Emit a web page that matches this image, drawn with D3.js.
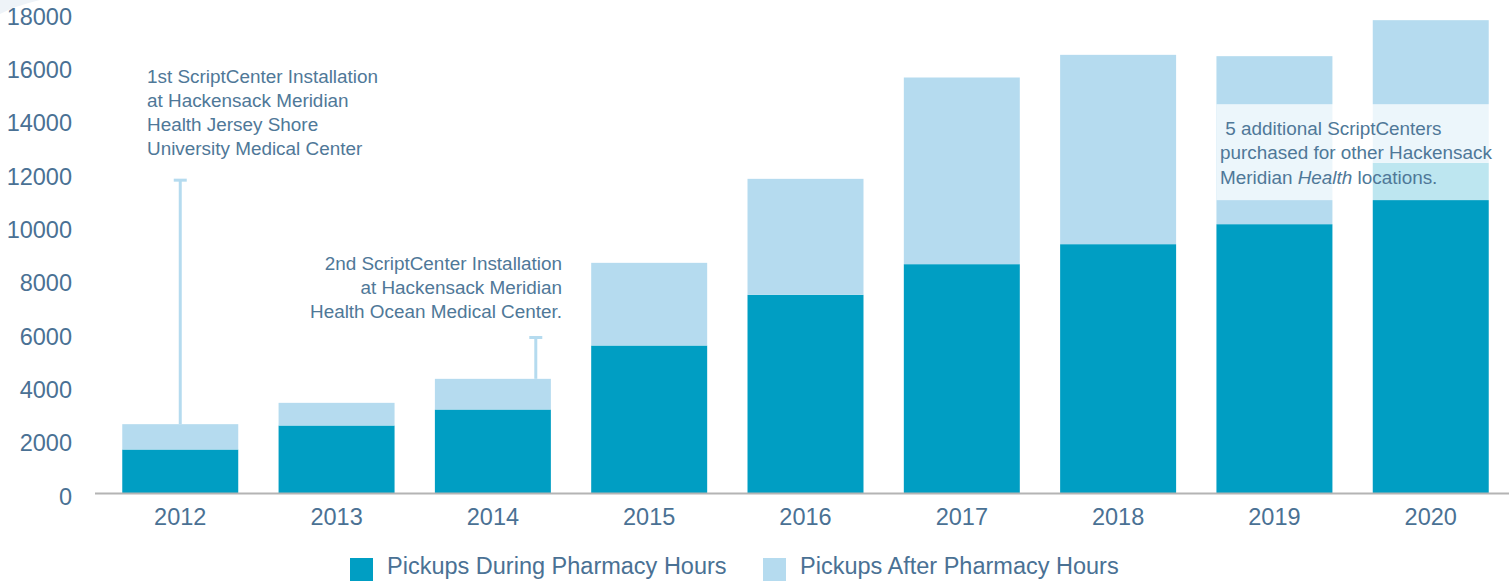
<!DOCTYPE html>
<html>
<head>
<meta charset="utf-8">
<script src="https://cdn.jsdelivr.net/npm/d3@7"></script>
<style>
  body { margin: 0; background: #fff; }
  svg { display: block; font-family: "Liberation Sans", Arial, Helvetica, sans-serif; }
  .tick-label { fill: #4a7194; font-size: 23.5px; }
  .note { fill: #4f7898; font-size: 18.9px; }
  .legend-label { fill: #4a7194; font-size: 23.5px; }
</style>
</head>
<body>
<svg width="1509" height="582"></svg>
<script>
const years = ['2012', '2013', '2014', '2015', '2016', '2017', '2018', '2019', '2020'];
const duringHours = [1650, 2550, 3150, 5550, 7450, 8600, 9350, 10100, 12400];
const totalPickups = [2600, 3400, 4300, 8650, 11800, 15600, 16450, 16400, 17750];
const yTicks = [0, 2000, 4000, 6000, 8000, 10000, 12000, 14000, 16000, 18000];
const seriesNames = ['Pickups During Pharmacy Hours', 'Pickups After Pharmacy Hours'];

const note1 = ['1st ScriptCenter Installation', 'at Hackensack Meridian', 'Health Jersey Shore', 'University Medical Center'];
const note2 = ['2nd ScriptCenter Installation', 'at Hackensack Meridian', 'Health Ocean Medical Center.'];
const note3 = [' 5 additional ScriptCenters', 'purchased for other Hackensack'];

const dark = '#009ec3';
const light = '#b5dbef';

const svg = d3.select('svg');

const xScale = d3.scaleBand()
  .domain(years)
  .range([91, 1520])
  .paddingInner(0.258)
  .paddingOuter(0.2);

const yScale = d3.scaleLinear()
  .domain([0, 18000])
  .range([493.5, 13.5]);

const data = years.map((y, i) => ({
  year: y,
  during: duringHours[i],
  after: totalPickups[i] - duringHours[i]
}));

const stacked = d3.stack().keys(['during', 'after'])(data);

// faint corner decoration
svg.append('path')
  .attr('d', 'M0,0 L40,0 Q15,6 0,14 Z')
  .attr('fill', '#eef3f8');

// bars
svg.append('g')
  .selectAll('g')
  .data(stacked)
  .enter().append('g')
    .attr('fill', (d, i) => i === 0 ? dark : light)
  .selectAll('rect')
  .data(d => d)
  .enter().append('rect')
    .attr('x', d => xScale(d.data.year))
    .attr('width', xScale.bandwidth())
    .attr('y', d => yScale(d[1]))
    .attr('height', d => yScale(d[0]) - yScale(d[1]));

// baseline
svg.append('line')
  .attr('x1', 95).attr('x2', 1509)
  .attr('y1', yScale(0)).attr('y2', yScale(0))
  .attr('stroke', '#b4b4b4')
  .attr('stroke-width', 2);

// y axis labels
const yAxis = d3.axisLeft(yScale).tickValues(yTicks).tickFormat(d3.format('d'))
  .tickSize(0).tickPadding(0);
const yAxisG = svg.append('g')
  .attr('transform', 'translate(72,3)')
  .call(yAxis);
yAxisG.select('.domain').remove();
yAxisG.selectAll('text')
  .attr('class', 'tick-label')
  .attr('font-family', null)
  .attr('font-size', null)
  .attr('fill', null);

// x axis labels
const xAxis = d3.axisBottom(xScale).tickSize(0).tickPadding(0);
const xAxisG = svg.append('g')
  .attr('transform', 'translate(0,508)')
  .call(xAxis);
xAxisG.select('.domain').remove();
xAxisG.selectAll('text')
  .attr('class', 'tick-label')
  .attr('font-family', null)
  .attr('font-size', null)
  .attr('fill', null);

// marker lines (T shaped)
const markers = [
  { year: '2012', from: 2600, to: 11750, at: 0.5 },
  { year: '2014', from: 4300, to: 5850, at: 0.87 }
];
markers.forEach(m => {
  const x = xScale(m.year) + xScale.bandwidth() * m.at;
  svg.append('line')
    .attr('x1', x).attr('x2', x)
    .attr('y1', yScale(m.from)).attr('y2', yScale(m.to))
    .attr('stroke', light).attr('stroke-width', 3);
  svg.append('line')
    .attr('x1', x - 6.5).attr('x2', x + 6.5)
    .attr('y1', yScale(m.to)).attr('y2', yScale(m.to))
    .attr('stroke', light).attr('stroke-width', 3);
});

// note 1
svg.append('text')
  .attr('class', 'note')
  .selectAll('tspan')
  .data(note1)
  .enter().append('tspan')
    .attr('x', 147)
    .attr('y', (d, i) => 82.5 + i * 24)
    .text(d => d);

// note 2
svg.append('text')
  .attr('class', 'note')
  .attr('text-anchor', 'end')
  .selectAll('tspan')
  .data(note2)
  .enter().append('tspan')
    .attr('x', 562)
    .attr('y', (d, i) => 269.5 + i * 24)
    .text(d => d);

// note 3 with translucent box
svg.append('rect')
  .attr('x', xScale('2019'))
  .attr('width', 1500 - xScale('2019'))
  .attr('y', yScale(14600))
  .attr('height', yScale(11000) - yScale(14600))
  .attr('fill', '#fff')
  .attr('fill-opacity', 0.74);

const note3Text = svg.append('text')
  .attr('class', 'note')
  .style('white-space', 'pre');
note3.forEach((line, i) => {
  note3Text.append('tspan')
    .attr('x', 1220)
    .attr('y', 134.5 + i * 24.5)
    .text(line);
});
const lastLine = note3Text.append('tspan').attr('x', 1220).attr('y', 134.5 + 2 * 24.5);
lastLine.append('tspan').text('Meridian ');
lastLine.append('tspan').attr('font-style', 'italic').text('Health');
lastLine.append('tspan').text(' locations.');

// legend
const legend = svg.append('g');
const legendX = [350, 763];
seriesNames.forEach((name, i) => {
  legend.append('rect')
    .attr('x', legendX[i]).attr('y', 558)
    .attr('width', 23).attr('height', 23)
    .attr('fill', i === 0 ? dark : light);
  legend.append('text')
    .attr('class', 'legend-label')
    .attr('x', legendX[i] + 37)
    .attr('y', 574)
    .text(name);
});
</script>
</body>
</html>
